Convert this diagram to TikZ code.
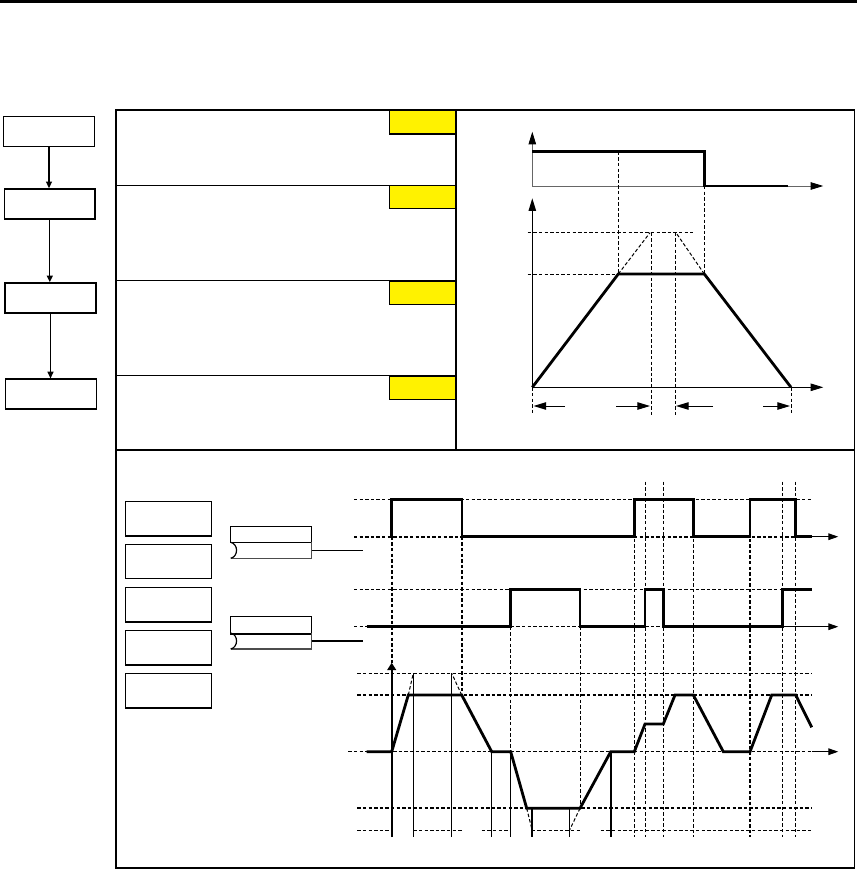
\documentclass[tikz,border=0pt]{standalone}
\usetikzlibrary{arrows.meta}
\begin{document}
\begin{tikzpicture}[x=0.75pt,y=-0.75pt,
  thinl/.style={line width=0.75pt},
  sig/.style={line width=2.1pt,line join=miter},
  dsh/.style={line width=0.75pt,dash pattern=on 2.6pt off 1.6pt},
  dshb/.style={line width=1.35pt,dash pattern=on 2.6pt off 1.6pt},
  flowbox/.style={draw,line width=1.2pt,minimum width=68pt,minimum height=22.5pt,inner sep=0pt},
  sigbox/.style={draw,line width=0.9pt,minimum width=64.5pt,minimum height=25.8pt,inner sep=0pt},
  ybox/.style={draw,fill=yellow,line width=0.8pt,minimum width=49.8pt,minimum height=17.3pt,inner sep=0pt},
  tabbox/.style={draw,line width=0.8pt,minimum width=60.5pt,inner sep=0pt},
  bigtip/.style={-{Triangle[length=9.5pt,width=5.6pt,color=black]}},
  midtip/.style={-{Triangle[length=7.5pt,width=5pt]}},
  smalltip/.style={-{Triangle[length=5pt,width=4.5pt]}}
]
\useasboundingbox (0,0) rectangle (857,870);
% top rule
\draw[line width=2pt] (0,1.3) -- (857,1.3);

% flow boxes
\node[flowbox] (f1) at (49,131.5) {};
\node[flowbox] (f2) at (49.8,204) {};
\node[flowbox] (f3) at (50.5,298) {};
\node[flowbox,line width=0.9pt] (f4) at (51,394) {};
\draw[line width=0.9pt,smalltip] (f1.south) -- (f1.south |- f2.north);
\draw[line width=0.9pt,smalltip] (f2.south) -- (f2.south |- f3.north);
\draw[line width=0.9pt,smalltip] (f3.south) -- (f3.south |- f4.north);

% main frame
\draw[line width=1.1pt] (116,110) rectangle (854.5,868);
\draw[line width=1pt] (116,450) -- (854.5,450);
\draw[line width=1pt] (456,110) -- (456,450);
\foreach \y in {185.3,280.3,375.3} \draw[line width=1pt] (116,\y) -- (456,\y);

% yellow boxes
\node[ybox] (y1) at (422.8,122.5) {};
\node[ybox] (y2) at (422.8,197.2) {};
\node[ybox] (y3) at (422.8,292.7) {};
\node[ybox] (y4) at (422.8,387.7) {};

% ---------- top right chart ----------
\draw[thinl,gray!80!black,bigtip] (532.3,186) -- (532.3,131.7);
\draw[thinl,gray!80!black,bigtip] (532.3,186) -- (823.3,186);
\draw[sig] (532.3,151.7) -- (704.3,151.7) -- (704.3,186) -- (788.3,186);
\draw[thinl,bigtip] (532.3,387.3) -- (532.3,198.3);
\draw[thinl,bigtip] (532.3,387.3) -- (823.3,387.3);
\draw[dsh] (527.7,232.7) -- (693.3,232.7);
\draw[dsh] (527.7,274) -- (618.3,274);
\draw[dsh] (618.3,151.7) -- (618.3,274);
\draw[dsh] (704.3,186) -- (704.3,274);
\draw[dsh] (618.3,274) -- (650,232.7);
\draw[dsh] (704.3,274) -- (676,232.7);
\draw[dsh] (651,232.7) -- (651,415);
\draw[dsh] (675,232.7) -- (675,415);
\draw[dsh] (532.3,387.3) -- (532.3,415);
\draw[dsh] (791,387.3) -- (791,415);
\draw[sig] (532.3,387.3) -- (618.3,274) -- (704.3,274) -- (791,387.3);
\draw[thinl,bigtip] (565,406) -- (533.5,406);
\draw[thinl,bigtip] (616,406) -- (650,406);
\draw[thinl,bigtip] (713,406) -- (676,406);
\draw[thinl,bigtip] (763,406) -- (790,406);

% ---------- bottom section ----------
\node[sigbox] (b1) at (168.3,518.8) {};
\node[sigbox] (b2) at (168.3,561.5) {};
\node[sigbox] (b3) at (168.3,604.8) {};
\node[sigbox] (b4) at (168.3,647.7) {};
\node[sigbox] (b5) at (168.3,690.8) {};

% tabs
\node[tabbox,minimum height=12pt] (t1) at (271,534.3) {};
\draw[line width=0.9pt,gray!60!black] (311.3,542.3) -- (311.3,558.3) -- (230.7,558.3);
\draw[line width=0.9pt] (230.7,558.3) .. controls (238.5,556.5) and (238.5,544) .. (230.7,542.3);
\coordinate (c1) at (362.7,550.3);
\draw[thinl] (t1.south east |- c1) -- (c1);

\node[tabbox,minimum height=12.5pt] (t2) at (271,624.7) {};
\draw[line width=1.4pt] (t2.south west) -- (t2.south east);
\draw[line width=0.9pt,gray!60!black] (311.3,633) -- (311.3,649) -- (230.7,649);
\draw[line width=0.9pt] (230.7,649) .. controls (238.5,647.2) and (238.5,634.7) .. (230.7,633);
\coordinate (c2) at (362.7,641);
\draw[line width=1.5pt] (t2.south east |- c2) -- (c2);

% horizontal dashed levels
\draw[dsh] (354,499.3) -- (811.7,499.3);
\draw[dshb] (354,536.7) -- (811.7,536.7);
\draw[dsh] (354,589.3) -- (811.7,589.3);
\draw[dsh] (354,626.7) -- (811.7,626.7);
\draw[dsh] (357.3,673.3) -- (811.7,673.3);
\draw[dshb] (357.3,695) -- (811.7,695);
\draw[dsh] (348.3,751.7) -- (811.7,751.7);
\draw[dshb] (357.3,808.3) -- (811.7,808.3);
\foreach \a/\b in {357.3/392,413.3/463.3,481.7/510.7,531.7/581.7,600.7/811.7}
  \draw[dsh] (\a,830.7) -- (\b,830.7);

% axis arrows
\draw[thinl,midtip] (811.7,536.7) -- (838.3,536.7);
\draw[thinl,midtip] (782.3,626.7) -- (838.3,626.7);
\draw[thinl,midtip] (811.7,751.7) -- (838.3,751.7);

% vertical dashed lines
\draw[dshb] (391.7,536.7) -- (391.7,665);
\draw[dshb] (462,536.7) -- (462,695);
\draw[dsh] (510.3,626.7) -- (510.3,751.7);
\draw[dsh] (580,626.7) -- (580,808.3);
\foreach \x/\t in {634.3/499.3,645/481.7,663.3/481.7,693.3/499.3,782.3/481.7,795.7/481.7}
  \draw[dsh] (\x,\t) -- (\x,837);
\draw[dshb] (750,499.3) -- (750,837);

% solid verticals
\foreach \x/\t in {413.3/673.3,451.7/673.3,491.7/751.7,510.7/751.7,569.3/808.3}
  \draw[thinl] (\x,\t) -- (\x,837);
\draw[line width=1.5pt] (532.3,808.3) -- (532.3,837);
\draw[line width=1.8pt] (610.7,751.7) -- (610.7,837);

% dashed extensions of ramps
\draw[dsh] (408.3,695) -- (413.3,673.3);
\draw[dsh] (461.7,695) -- (451.7,673.3);
\draw[dsh] (526.7,808.3) -- (532.3,830.7);
\draw[dsh] (580,808.3) -- (569.3,830.7);

% velocity axis
\draw[line width=1.8pt,-{Triangle[length=5.5pt,width=6.5pt]}] (391.7,837) -- (391.7,662.7);

% signals
\draw[sig] (391.7,536.7) -- (391.7,499.3) -- (462,499.3) -- (462,536.7) -- (634.3,536.7) -- (634.3,499.3) -- (693.3,499.3) -- (693.3,536.7) -- (750,536.7) -- (750,499.3) -- (795.7,499.3) -- (795.7,536.7) -- (811.7,536.7);
\draw[sig] (366.7,626.7) -- (510.3,626.7) -- (510.3,589.3) -- (580,589.3) -- (580,626.7) -- (645,626.7) -- (645,589.3) -- (663.3,589.3) -- (663.3,626.7) -- (782.3,626.7) -- (782.3,589.3) -- (811.7,589.3);
\draw[sig] (366.7,751.7) -- (391.7,751.7) -- (408.3,695) -- (461.7,695) -- (491.7,751.7) -- (510.7,751.7) -- (526.7,808.3) -- (580,808.3) -- (610.7,751.7) -- (634.3,751.7) -- (645,724) -- (663.3,724) -- (675,695) -- (693.3,695) -- (723.3,751.7) -- (750,751.7) -- (771.7,695) -- (795.7,695) -- (811.7,727.3);
\end{tikzpicture}
\end{document}
